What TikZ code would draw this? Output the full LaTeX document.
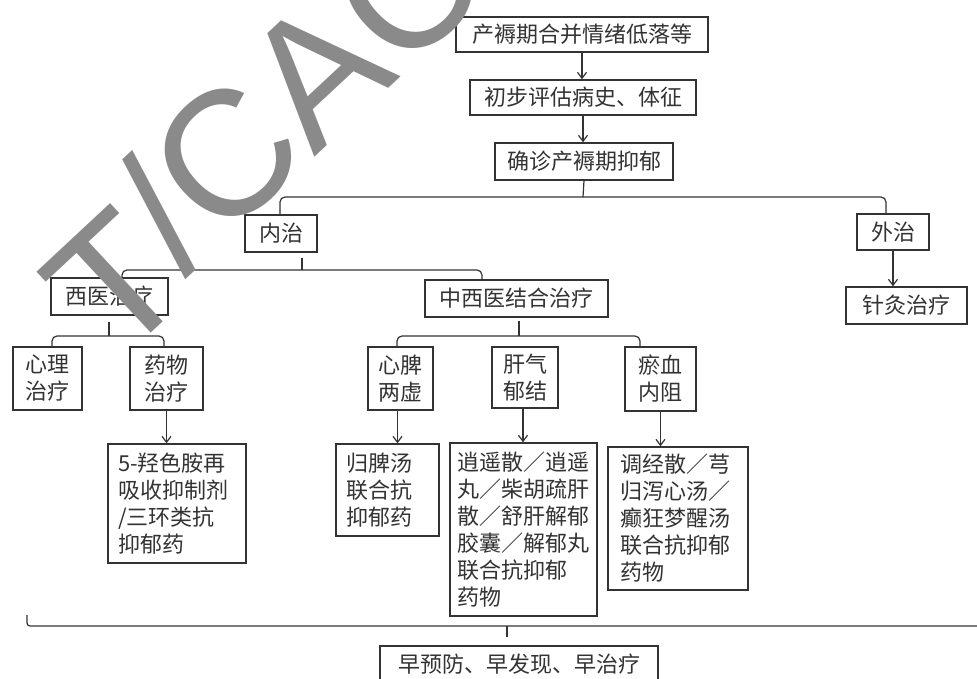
\documentclass[tikz,border=0pt]{standalone}
\usepackage{fontspec}
\newfontfamily\cjk{Noto Sans CJK SC}
\newfontfamily\wmfont{Liberation Sans}
\usetikzlibrary{arrows.meta}
\begin{document}
\begin{tikzpicture}[x=1pt,y=-1pt,
  box/.style={draw=black!80, line width=1.4pt, inner sep=0pt, text=black!80,
    font=\cjk\fontsize{22}{27}\selectfont, align=center},
  mbox/.style={box, align=left},
  arr/.style={line width=1.2pt, draw=black!80, -{Straight Barb[length=6pt,width=9pt,line width=1.2pt]}},
  ln/.style={line width=1.2pt, draw=black!80, rounded corners=5pt},
  wm/.style={inner sep=0pt, text=black!46, font=\wmfont\fontsize{178}{178}\selectfont}]
\useasboundingbox (0,0) rectangle (977,679);
\clip (0,0) rectangle (977,679);
\fill[white] (0,0) rectangle (977,679);

% nodes
\node[box, minimum width=252, minimum height=35] (b1) at (582,34.5) {产褥期合并情绪低落等};
\node[box, minimum width=226, minimum height=35] (b2) at (583,97.5) {初步评估病史、体征};
\node[box, minimum width=178, minimum height=37] (b3) at (584,161.5) {确诊产褥期抑郁};
\node[box, minimum width=72, minimum height=37] (b4) at (281,233.5) {内治};
\node[box, minimum width=72, minimum height=36] (b5) at (893,232) {外治};
\node[box, minimum width=117, minimum height=37] (b6) at (109.5,296.5) {西医治疗};
\node[box, minimum width=183, minimum height=37] (b7) at (516.5,298.5) {中西医结合治疗};
\node[box, minimum width=121, minimum height=37] (b8) at (906.5,305.5) {针灸治疗};
\node[box, minimum width=69, minimum height=63] (b9) at (47.5,378.5) {心理\\治疗};
\node[box, minimum width=73, minimum height=63] (b10) at (166.5,378.5) {药物\\治疗};
\node[box, minimum width=65, minimum height=63] (b12) at (400.5,378.5) {心脾\\两虚};
\node[box, minimum width=66, minimum height=61] (b13) at (525,377.5) {肝气\\郁结};
\node[box, minimum width=71, minimum height=64] (b14) at (660.5,379) {瘀血\\内阻};
\node[mbox, text width=118, inner xsep=10, minimum height=119] (b11) at (177,503.5)
  {5-羟色胺再\\吸收抑制剂\\/三环类抗\\抑郁药};
\node[mbox, text width=83, inner xsep=10, minimum height=92] (b15) at (387.5,490)
  {归脾汤\\联合抗\\抑郁药};
\node[mbox, text width=133, inner xsep=7, minimum height=173] (b16) at (523.5,529.5)
  {逍遥散／逍遥\\丸／柴胡疏肝\\散／舒肝解郁\\胶囊／解郁丸\\联合抗抑郁\\药物};
\node[mbox, text width=116, inner xsep=12, minimum height=143] (b17) at (678,518.5)
  {调经散／芎\\归泻心汤／\\癫狂梦醒汤\\联合抗抑郁\\药物};
\node[box, minimum width=278, minimum height=37] (b18) at (519,664.5) {早预防、早发现、早治疗};

% arrows
\draw[arr] (b1.south) -- (b1.south |- b2.north);
\draw[arr] (b2.south) -- (b2.south |- b3.north);
\draw[arr] (b5.south) -- (b5.south |- b8.north);
\draw[arr] (b10.south) -- (b10.south |- b11.north);
\draw[arr] ([xshift=-3]b12.south) -- ([xshift=-3]b12.south |- b15.north);
\draw[arr] ([xshift=-2]b13.south) -- ([xshift=-2]b13.south |- b16.north);
\draw[arr] (b14.south) -- (b14.south |- b17.north);

% braces
\coordinate (j1) at (583,197);
\draw[ln] (b3.south) -- (j1);
\draw[ln] ([xshift=-1]b4.north) |- (j1) -| ([xshift=-7]b5.north);

\coordinate (j2) at (302,270);
\draw[ln] (j2) -- ++(0,-12);
\draw[ln] ([xshift=12.5]b6.north) |- (j2) -| ([xshift=-34.5]b7.north);

\coordinate (j3) at (109,336);
\draw[ln] (j3) -- ++(0,-14);
\draw[ln] ([xshift=4.5]b9.north) |- (j3) -| ([xshift=-2.5]b10.north);

\coordinate (j4) at (519,336);
\draw[ln] (j4) -- ++(0,-15);
\draw[ln] ([xshift=-3.5]b12.north) |- (j4) -| ([xshift=-20.5]b14.north);

\coordinate (j5) at (507,626);
\coordinate (bl) at (27,615);
\coordinate (br) at (990,626);
\draw[ln, rounded corners=3pt] (bl) |- (j5) -- (br);
\draw[ln] (j5) -- ++(0,11);

% watermark
\node[wm, rotate=43, anchor=base west] (wmt) at (117,365) {T};
\node[wm, rotate=43, anchor=base west] (wmk) at (184.5,278.8) {/CAC};
\end{tikzpicture}
\end{document}
